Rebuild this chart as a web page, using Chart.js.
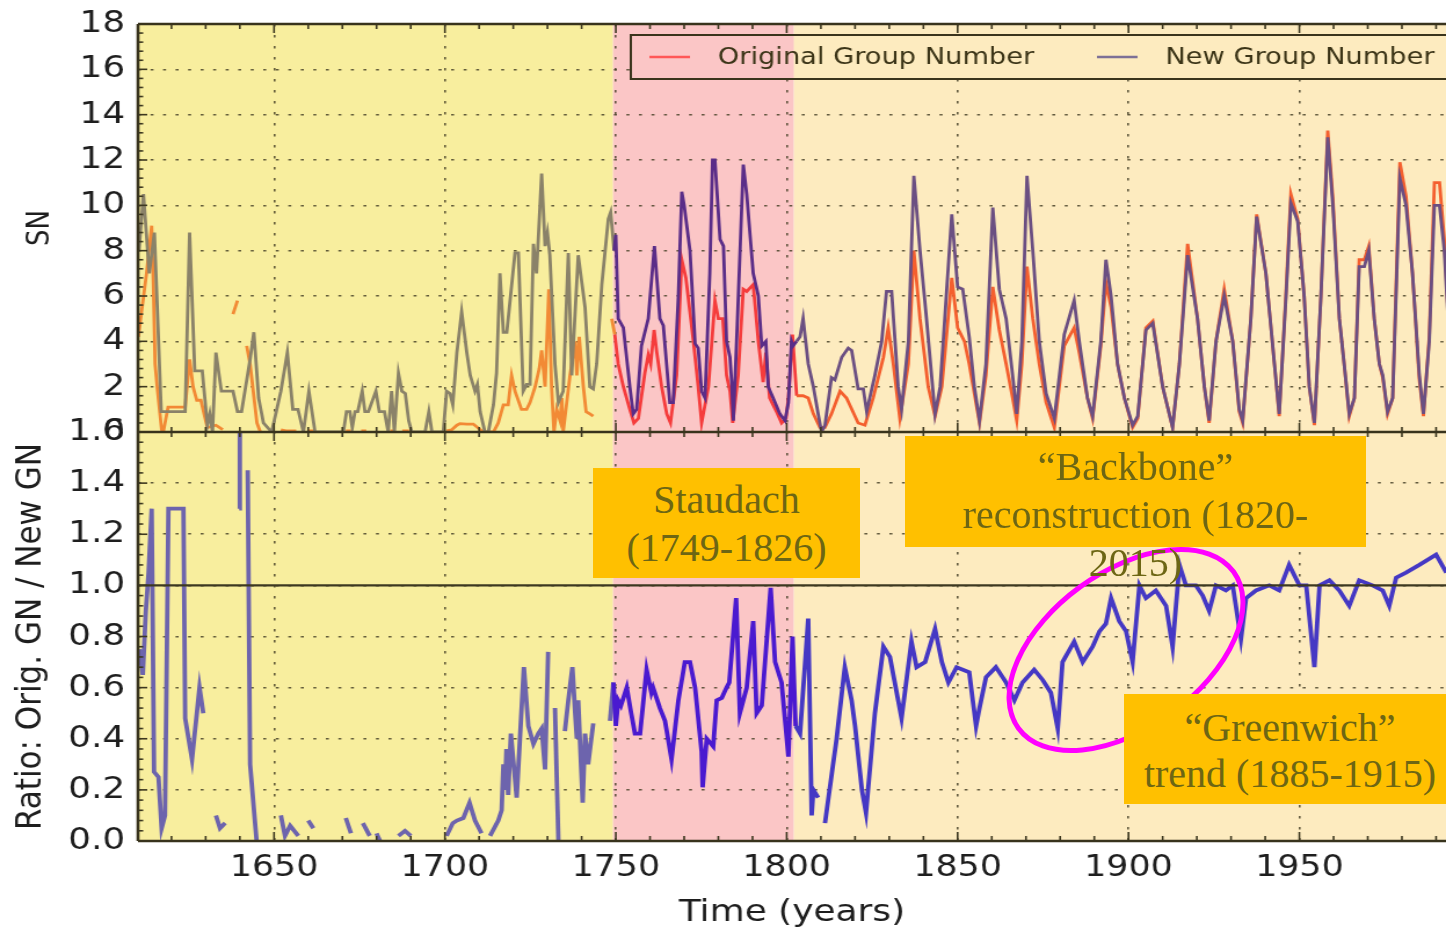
<!DOCTYPE html>
<html><head><meta charset="utf-8">
<script src="https://cdn.jsdelivr.net/npm/chart.js@4.4.1/dist/chart.umd.min.js"></script>
<style>
html,body{margin:0;padding:0;background:#fff;overflow:hidden;}
#wrap{position:relative;width:1446px;height:932px;overflow:hidden;}
#stretch{position:absolute;left:0;top:0;width:1247px;height:932px;transform-origin:0 0;transform:scaleX(1.15958);}
svg{position:absolute;left:0;top:0;}
.note{position:absolute;background:#ffc000;color:#6d6614;font-family:"Liberation Serif","DejaVu Serif",serif;font-size:40px;line-height:48px;text-align:center;white-space:nowrap;box-sizing:border-box;}
</style></head>
<body><div id="wrap">
<div id="stretch"><canvas id="c" width="1247" height="932"></canvas></div>
<svg width="1446" height="932"><ellipse cx="1126" cy="650" rx="133" ry="78" transform="rotate(-36 1126 650)" fill="none" stroke="#ff00ff" stroke-width="5"/></svg>
<div class="note" style="left:593px;top:468px;width:267px;height:110px;padding-top:8px;">Staudach<br>(1749-1826)</div>
<div class="note" style="left:905px;top:436px;width:461px;height:111px;padding-top:7px;">“Backbone”<br>reconstruction (1820-<br>2015)</div>
<div class="note" style="left:1124px;top:694px;width:332px;height:110px;padding-top:11px;line-height:46px;">“Greenwich”<br>trend (1885-1915)</div>
</div>
<script>
// ---- data ----
const newYears = [1610.5,1611.8,1613.5,1615.0,1617.0,1624.0,1625.3,1626.8,1629.0,1630.5,1631.2,1632.0,1633.0,1634.6,1638.0,1639.3,1640.5,1643.0,1644.1,1645.5,1646.9,1649.3,1652.0,1653.9,1655.5,1657.0,1658.6,1660.2,1662.0,1670.3,1671.2,1672.2,1672.9,1673.7,1674.5,1675.8,1676.6,1677.6,1679.8,1680.8,1682.3,1683.4,1684.4,1685.2,1686.4,1687.4,1688.4,1689.4,1690.3,1694.2,1695.3,1696.2,1699.5,1700.5,1701.5,1702.3,1703.5,1704.9,1706.4,1707.4,1708.8,1709.5,1710.3,1711.7,1712.7,1714.2,1715.1,1716.1,1717.1,1718.1,1720.5,1721.5,1722.9,1723.9,1724.9,1725.9,1726.8,1728.3,1729.3,1730.0,1730.7,1732.2,1733.2,1734.6,1736.1,1737.1,1739.0,1741.0,1742.4,1743.4,1744.4,1745.9,1747.8,1748.5,1749.5,1750.0,1750.7,1752.2,1754.1,1755.1,1756.1,1757.5,1759.5,1761.3,1762.9,1763.9,1765.8,1766.8,1768.3,1769.3,1770.0,1771.7,1773.2,1774.1,1775.1,1776.1,1777.5,1778.3,1779.0,1780.5,1781.5,1782.4,1783.4,1783.9,1784.4,1785.6,1787.3,1788.3,1790.2,1791.7,1792.7,1793.9,1794.6,1796.6,1798.0,1799.5,1800.5,1801.4,1801.9,1802.9,1803.9,1804.8,1806.3,1807.8,1809.2,1810.2,1811.2,1813.1,1814.1,1816.1,1818.0,1819.0,1820.9,1822.4,1823.4,1825.8,1827.8,1829.2,1830.7,1832.6,1833.6,1835.6,1837.2,1839.0,1840.9,1843.4,1844.9,1848.3,1850.0,1851.5,1853.4,1854.9,1856.4,1858.3,1860.3,1862.2,1864.2,1866.1,1867.3,1868.8,1870.3,1872.0,1873.9,1875.9,1878.3,1881.2,1884.1,1885.6,1888.0,1889.5,1891.9,1893.4,1894.9,1896.8,1898.8,1901.2,1902.7,1905.1,1907.1,1910.0,1912.9,1914.9,1917.3,1920.2,1922.2,1923.6,1925.6,1928.0,1930.5,1932.4,1933.4,1935.8,1937.5,1940.2,1942.7,1944.1,1946.1,1947.5,1949.5,1951.4,1952.9,1954.4,1956.3,1958.3,1959.8,1961.7,1963.1,1964.6,1966.1,1967.5,1969.0,1970.3,1971.9,1973.4,1974.4,1975.8,1977.3,1979.4,1981.2,1983.1,1985.1,1986.3,1988.0,1989.5,1991.0,1992.4,1993.5];
const newGN = [8.0,10.5,7.0,8.8,0.9,0.9,8.8,2.7,2.7,0.3,0.8,0.0,3.5,1.8,1.8,0.9,0.9,3.2,4.4,1.5,0.4,0.0,1.8,3.5,1.0,1.0,0.0,1.8,0.0,0.0,0.9,0.9,0.2,0.9,0.9,1.8,0.9,0.9,1.8,0.9,0.9,0.0,1.8,0.0,2.6,1.8,1.7,0.5,0.0,0.0,0.9,0.0,0.0,1.8,1.7,1.2,3.5,5.3,3.5,2.5,1.8,2.1,0.9,0.0,0.0,1.2,2.6,7.0,4.4,4.4,7.9,7.9,1.8,2.1,2.1,8.3,7.0,11.4,8.2,8.8,7.8,3.0,1.3,1.8,7.9,2.5,7.8,5.5,2.0,1.9,3.0,6.5,9.4,9.7,8.0,8.7,5.0,4.6,2.0,0.8,1.0,3.8,5.0,8.2,5.0,4.7,1.3,1.3,6.0,10.6,10.0,8.0,3.9,3.7,1.8,1.5,7.0,12.0,12.0,8.5,8.2,4.0,3.3,2.2,0.5,5.0,11.8,10.5,7.0,6.0,3.8,4.0,2.0,1.3,0.8,0.5,1.3,4.0,3.8,4.0,4.2,5.0,3.0,2.0,0.8,0.0,0.3,2.4,2.3,3.3,3.7,3.6,1.9,1.9,0.9,2.5,4.0,6.2,6.2,2.0,1.0,4.0,11.3,8.0,5.0,0.8,2.0,9.6,6.4,6.3,4.2,2.0,0.5,3.0,9.9,6.3,5.0,2.5,0.8,4.0,11.3,8.0,4.0,1.7,0.6,4.3,5.8,4.0,1.5,0.7,4.0,7.6,6.0,3.0,1.5,0.3,0.7,4.5,4.8,2.0,0.2,3.0,7.8,5.0,2.0,0.5,4.0,6.0,4.0,1.0,0.5,5.0,9.5,7.0,3.0,0.8,6.0,10.1,9.3,6.0,2.0,0.4,6.0,13.0,10.0,5.0,3.0,0.8,1.5,7.3,7.3,8.0,5.0,3.0,2.5,0.9,1.5,11.2,10.0,7.0,2.5,0.8,4.0,10.0,10.0,8.0,5.0];

const origYears = [1610.3,1612.7,1614.2,1614.7,1615.2,1615.8,1617.1,1617.6,1619.0,1624.0,1625.3,1626.3,1627.4,1628.6,1630.0,1630.5,1633.0,1635.0,1636.5,1638.0,1639.3,1640.5,1642.0,1643.0,1645.0,1646.0,1649.0,1652.0,1653.5,1656.5,1658.0,1660.0,1661.5,1665.0,1671.0,1672.5,1674.0,1675.5,1677.0,1680.0,1684.0,1685.0,1686.0,1687.5,1689.5,1695.0,1700.5,1702.0,1703.5,1704.4,1706.4,1708.3,1711.2,1714.2,1715.6,1717.1,1718.5,1719.5,1720.5,1722.4,1723.9,1724.9,1726.4,1727.6,1728.3,1729.3,1730.4,1731.2,1731.9,1732.7,1733.7,1734.2,1734.6,1736.6,1738.1,1738.6,1739.3,1740.5,1741.3,1742.4,1743.4,1746.0,1748.8,1749.7,1750.7,1752.2,1754.1,1755.3,1756.6,1758.5,1759.5,1760.2,1761.2,1762.0,1763.4,1764.9,1766.0,1767.8,1769.3,1770.5,1772.7,1774.1,1775.1,1777.1,1779.0,1780.0,1781.3,1782.4,1783.4,1784.2,1785.8,1787.3,1788.3,1790.2,1791.7,1793.1,1793.9,1795.0,1797.0,1798.5,1799.8,1800.5,1801.7,1802.9,1804.8,1806.3,1807.8,1809.7,1811.2,1813.1,1815.6,1817.5,1820.9,1822.9,1825.3,1828.3,1829.7,1831.2,1833.1,1835.6,1837.2,1839.0,1841.4,1843.4,1845.4,1848.3,1850.0,1852.0,1853.4,1856.4,1858.3,1860.3,1862.2,1864.2,1866.1,1867.3,1868.8,1870.3,1872.0,1873.9,1875.9,1878.3,1881.2,1884.1,1885.6,1888.0,1889.5,1891.9,1893.4,1894.9,1896.8,1898.8,1901.2,1902.7,1905.1,1907.1,1910.0,1912.9,1914.9,1917.3,1920.2,1922.2,1923.6,1925.6,1928.0,1930.5,1932.4,1933.4,1935.8,1937.5,1940.2,1942.7,1944.1,1946.1,1947.5,1949.5,1951.4,1952.9,1954.4,1956.3,1958.3,1959.8,1961.7,1963.1,1964.6,1966.1,1967.5,1969.0,1970.3,1971.9,1973.4,1974.4,1975.8,1977.3,1979.4,1981.2,1983.1,1985.1,1986.3,1988.0,1989.5,1991.0,1992.4,1993.5];
const origGN = [4.2,7.0,9.1,6.5,3.0,2.0,0.1,0.0,1.1,1.1,3.2,2.0,1.4,1.4,0.5,0.2,0.3,0.1,null,5.2,5.8,null,3.8,3.0,0.4,0.0,null,0.1,0.05,0.05,null,0.05,0.05,null,0.05,0.05,null,0.05,0.05,null,0.05,0.05,null,0.05,0.05,null,0.05,0.1,0.3,0.37,0.35,0.35,0.0,0.0,0.4,1.2,1.2,2.5,1.8,1.0,1.0,1.3,2.0,2.8,3.6,2.0,6.3,2.0,0.0,1.0,0.5,1.5,0.0,2.5,4.0,2.5,4.2,2.0,0.9,0.8,0.7,null,5.0,4.3,3.0,2.0,1.0,0.4,0.6,2.6,3.4,3.0,4.5,3.5,2.0,0.8,0.4,2.5,7.6,6.8,4.0,2.0,0.4,2.0,5.8,5.0,5.0,2.5,1.8,0.4,2.5,6.3,6.2,6.5,4.0,2.2,3.5,1.5,0.9,0.4,0.6,1.5,4.3,1.6,1.6,1.5,0.8,0.2,0.2,0.8,1.8,1.5,0.4,0.3,1.5,3.3,4.6,3.0,0.6,3.0,8.0,5.0,2.0,0.7,2.0,6.8,4.6,4.0,3.0,0.4,2.5,6.4,4.5,3.0,1.5,0.5,3.0,7.3,5.0,3.0,1.3,0.2,3.8,4.6,3.5,1.5,0.6,3.8,6.6,5.5,3.0,1.5,0.2,0.6,4.6,4.9,2.0,0.2,3.0,8.3,5.0,2.0,0.4,4.0,6.3,4.0,0.9,0.4,5.0,9.6,7.0,3.0,0.7,6.2,10.5,9.4,6.0,2.0,0.3,6.0,13.3,10.3,5.0,3.0,0.7,1.5,7.6,7.6,8.2,5.0,3.0,2.4,0.8,1.5,11.9,10.4,7.0,2.3,0.7,4.2,11.0,11.0,8.5,5.3];

const ratioYears = [1610.6,1611.6,1612.5,1613.3,1614.2,1614.9,1616.2,1617.1,1618.1,1619.1,1623.5,1624.0,1626.0,1628.2,1629.3,1631.0,1633.0,1634.2,1635.7,1637.0,1639.8,1640.0,1641.0,1642.3,1643.0,1644.9,1648.0,1652.0,1653.2,1654.7,1657.1,1658.5,1660.0,1661.5,1665.0,1671.0,1672.5,1674.0,1676.0,1678.0,1679.0,1680.0,1681.0,1684.0,1686.4,1688.3,1690.0,1695.0,1700.5,1702.3,1703.5,1705.4,1707.2,1708.8,1710.7,1712.0,1713.2,1715.6,1716.6,1717.1,1717.6,1718.0,1718.5,1719.3,1721.0,1723.1,1724.4,1725.9,1727.3,1728.3,1729.3,1730.2,1731.0,1732.2,1733.2,1734.0,1735.1,1736.1,1737.3,1738.1,1738.6,1739.0,1740.3,1741.0,1741.9,1743.4,1746.0,1748.3,1749.3,1750.0,1750.7,1751.5,1753.2,1754.5,1755.6,1757.1,1759.0,1760.4,1760.9,1762.9,1764.4,1766.3,1768.3,1770.2,1771.7,1773.2,1775.1,1775.4,1776.6,1778.5,1779.5,1781.0,1782.4,1783.2,1785.2,1786.3,1788.3,1790.2,1791.2,1792.7,1795.3,1796.6,1798.5,1800.5,1801.7,1802.6,1803.9,1806.3,1807.3,1807.8,1809.2,1810.2,1811.2,1814.6,1817.0,1819.0,1820.0,1822.0,1823.2,1825.8,1828.3,1830.2,1833.6,1836.5,1838.0,1840.5,1843.4,1845.4,1847.3,1849.7,1853.4,1855.4,1856.4,1858.3,1861.2,1864.2,1866.6,1869.0,1872.4,1874.9,1877.3,1879.3,1880.7,1884.1,1886.6,1889.5,1891.5,1893.4,1894.9,1897.3,1899.3,1901.2,1903.2,1905.1,1908.0,1911.0,1912.9,1914.9,1916.8,1919.7,1921.7,1923.6,1925.6,1928.5,1930.5,1932.9,1934.4,1937.3,1941.2,1944.1,1947.0,1950.0,1952.0,1954.4,1955.9,1958.8,1961.7,1964.6,1967.5,1971.4,1974.4,1976.3,1978.3,1981.2,1985.1,1990.0,1993.0];
const ratio = [0.75,0.65,0.9,1.05,1.3,0.27,0.25,0.05,0.1,1.3,1.3,0.48,0.32,0.6,0.5,null,0.1,0.05,0.07,null,1.3,1.6,null,1.45,0.3,0.0,null,0.1,0.02,0.06,0.02,null,0.08,0.05,null,0.09,0.03,null,0.07,0.02,null,0.03,0.0,null,0.02,0.04,0.02,null,0.02,0.07,0.08,0.09,0.15,0.08,0.03,null,0.02,0.08,0.12,0.3,0.2,0.36,0.18,0.42,0.17,0.68,0.45,0.38,0.42,0.44,0.28,0.74,null,0.52,0.0,null,0.43,0.55,0.68,0.5,0.4,0.55,0.15,0.42,0.3,0.46,null,0.47,0.62,0.45,0.55,0.53,0.6,0.5,0.42,0.42,0.67,0.58,0.6,0.52,0.47,0.32,0.55,0.7,0.7,0.6,0.35,0.21,0.4,0.37,0.55,0.56,0.6,0.62,0.95,0.5,0.6,0.86,0.5,0.53,0.99,0.7,0.62,0.33,0.8,0.45,0.42,0.87,0.1,0.2,0.17,null,0.07,0.4,0.68,0.55,0.45,0.2,0.11,0.5,0.76,0.72,0.48,0.78,0.68,0.7,0.83,0.7,0.62,0.68,0.66,0.45,0.52,0.64,0.68,0.62,0.55,0.62,0.67,0.63,0.58,0.44,0.7,0.78,0.7,0.76,0.82,0.85,0.95,0.86,0.82,0.7,1.0,0.95,0.98,0.92,0.76,1.08,1.0,1.0,0.96,0.9,1.0,0.98,1.0,0.79,0.95,0.98,1.0,0.98,1.08,1.0,1.0,0.68,1.0,1.02,0.98,0.92,1.02,1.0,0.98,0.92,1.03,1.05,1.08,1.12,1.05];

const xTicks = [1650,1700,1750,1800,1850,1900,1950];
const snTicks = [0,2,4,6,8,10,12,14,16,18];
const ratioTicks = [0,0.2,0.4,0.6,0.8,1.0,1.2,1.4,1.6];
const xRange = [1610.2, 1992.9];
const periodStarts = [1610.2, 1749.2, 1802.1];   // Yellow, Staudach (pink), Backbone (light orange)
const periodFills = ['#f8ee9e','#fbc6c6','#fdebbf'];
const newColors = ['#8a8269','#5a2d88','#6b4f82'];
const origColors = ['#f28a35','#f53c3c','#f45f2e'];
const ratioColors = ['#6d64ad','#4a1ad0','#4538c4'];
const legendColors = ['#ff5757','#7d7096'];

// ---- helpers ----
function periodIndex(x){ let k = 0; periodStarts.forEach((s,i)=>{ if (x >= s) k = i; }); return k; }
const toPoints = (xs, ys) => xs.map((x,i)=>({x:x, y:ys[i]}));
const FONT = "'DejaVu Sans', sans-serif";
const gridColor = 'rgba(72,66,40,0.85)';

const framePlugin = {
  id: 'frame',
  beforeDraw(chart){
    const {ctx, chartArea:a, scales:{x}} = chart;
    ctx.save();
    periodStarts.forEach((s,i)=>{
      const x0 = Math.max(a.left, x.getPixelForValue(s));
      const x1 = i+1 < periodStarts.length ? x.getPixelForValue(periodStarts[i+1]) : a.right;
      ctx.fillStyle = periodFills[i];
      ctx.fillRect(x0, a.top, x1-x0, a.bottom-a.top);
    });
    ctx.restore();
  },
  afterDatasetsDraw(chart){
    const {ctx, chartArea:a, scales:{x, ySN, yR}} = chart;
    ctx.save();
    ctx.strokeStyle = '#3d3820';
    // ratio = 1 reference line
    ctx.lineWidth = 2.2;
    const y1 = yR.getPixelForValue(1);
    ctx.beginPath(); ctx.moveTo(a.left, y1); ctx.lineTo(a.right, y1); ctx.stroke();
    // tick marks (inward)
    ctx.lineWidth = 1.6;
    const panels = [ySN, yR];
    const xMinor = [];
    for (let v = 1620; v < xRange[1]; v += 10) xMinor.push(v);
    panels.forEach(p=>{
      xMinor.forEach(v=>{
        const len = xTicks.includes(v) ? 9 : 5;
        const px = x.getPixelForValue(v);
        ctx.beginPath();
        ctx.moveTo(px, p.top); ctx.lineTo(px, p.top+len);
        ctx.moveTo(px, p.bottom); ctx.lineTo(px, p.bottom-len);
        ctx.stroke();
      });
    });
    const yMinor = (scale, step, majors) => {
      for (let i = 0; i*step <= scale.max + 1e-9; i++) {
        const v = i*step;
        const isMajor = majors.some(m => Math.abs(m - v) < 1e-6);
        const py = scale.getPixelForValue(v);
        ctx.beginPath(); ctx.moveTo(a.left, py); ctx.lineTo(a.left + (isMajor ? 8 : 4.5), py); ctx.stroke();
      }
    };
    yMinor(ySN, 0.4, snTicks);
    yMinor(yR, 0.04, ratioTicks);
    // spines
    ctx.lineWidth = 2.6;
    ctx.strokeStyle = '#38331c';
    ctx.beginPath();
    ctx.moveTo(a.left, a.top); ctx.lineTo(a.right, a.top);
    ctx.moveTo(a.left, ySN.bottom); ctx.lineTo(a.right, ySN.bottom);
    ctx.moveTo(a.left, a.bottom); ctx.lineTo(a.right, a.bottom);
    ctx.moveTo(a.left, a.top); ctx.lineTo(a.left, a.bottom);
    ctx.stroke();
    // legend box inside the top panel
    const lx = 544, ly = 35, lh = 44, lw = 760;
    periodStarts.forEach((s,i)=>{
      const x0 = Math.max(lx, x.getPixelForValue(s));
      const x1 = i+1 < periodStarts.length ? x.getPixelForValue(periodStarts[i+1]) : a.right;
      if (x1 > x0) { ctx.fillStyle = periodFills[i]; ctx.fillRect(x0, ly, x1-x0, lh); }
    });
    ctx.lineWidth = 2;
    ctx.strokeStyle = '#3a341c';
    ctx.strokeRect(lx, ly, lw, lh);
    const items = [
      {label: chart.data.datasets[0].label, color: legendColors[0], x0: 560, tx: 619},
      {label: chart.data.datasets[1].label, color: legendColors[1], x0: 946, tx: 1005}
    ];
    ctx.font = "23.5px " + FONT;
    ctx.textBaseline = 'middle';
    ctx.textAlign = 'left';
    items.forEach(it=>{
      ctx.strokeStyle = it.color; ctx.lineWidth = 2.6;
      ctx.beginPath(); ctx.moveTo(it.x0, ly+lh/2); ctx.lineTo(it.x0+35, ly+lh/2); ctx.stroke();
      ctx.fillStyle = '#3b3417';
      ctx.fillText(it.label, it.tx, ly+lh/2+1);
    });
    ctx.restore();
  }
};

const mkTicks = vals => scale => { scale.ticks = vals.map(v => ({value: v})); };

const chart = new Chart(document.getElementById('c'), {
  type: 'line',
  data: {
    datasets: [
      { label: 'Original Group Number', data: toPoints(origYears, origGN), xAxisID: 'x', yAxisID: 'ySN', order: 2,
        borderColor: origColors[2], borderWidth: 2.8, pointRadius: 0, spanGaps: false, tension: 0,
        segment: { borderColor: c => origColors[periodIndex(c.p0.parsed.x)] } },
      { label: 'New Group Number', data: toPoints(newYears, newGN), xAxisID: 'x', yAxisID: 'ySN', order: 1,
        borderColor: newColors[2], borderWidth: 2.8, pointRadius: 0, spanGaps: false, tension: 0,
        segment: { borderColor: c => newColors[periodIndex(c.p0.parsed.x)] } },
      { label: 'Ratio', data: toPoints(ratioYears, ratio), xAxisID: 'x', yAxisID: 'yR', order: 0,
        borderColor: ratioColors[2], borderWidth: 3.8, pointRadius: 0, spanGaps: false, tension: 0,
        segment: { borderColor: c => ratioColors[periodIndex(c.p0.parsed.x)] } }
    ]
  },
  options: {
    responsive: false, animation: false, devicePixelRatio: 1,
    layout: { padding: { top: 24, right: 0, bottom: 0, left: 0 } },
    plugins: { legend: { display: false }, tooltip: { enabled: false } },
    scales: {
      x: { type: 'linear', position: 'bottom', min: xRange[0], max: xRange[1],
        afterBuildTicks: mkTicks(xTicks),
        afterFit: s => { s.height = 91; },
        grid: { color: gridColor, lineWidth: 1.6, drawTicks: false },
        border: { display: false, dash: [2.5, 8.5] },
        ticks: { font: { family: FONT, size: 30 }, color: '#1e1e1e', padding: 9, maxRotation: 0, autoSkip: false, callback: v => String(v) },
        title: { display: true, text: 'Time (years)', font: { family: FONT, size: 31 }, color: '#1e1e1e', padding: { top: 0, bottom: 0 } } },
      ySN: { type: 'linear', position: 'left', stack: 'panels', stackWeight: 408, weight: 2, min: 0, max: 18,
        afterBuildTicks: mkTicks(snTicks),
        afterFit: s => { s.width = 119; },
        grid: { color: gridColor, lineWidth: 1.6, drawTicks: false },
        border: { display: false, dash: [2.6, 8.2] },
        ticks: { font: { family: FONT, size: 31, lineHeight: 0.8 }, color: '#1e1e1e', padding: 11, autoSkip: false, callback: v => String(v) },
        title: { display: true, text: 'SN', font: { family: FONT, size: 26 }, color: '#1e1e1e', padding: { top: 20, bottom: 0 } } },
      yR: { type: 'linear', position: 'left', stack: 'panels', stackWeight: 409, weight: 1, min: 0, max: 1.6,
        afterBuildTicks: mkTicks(ratioTicks),
        afterFit: s => { s.width = 119; },
        grid: { color: gridColor, lineWidth: 1.6, drawTicks: false },
        border: { display: false, dash: [2.6, 8.2] },
        ticks: { font: { family: FONT, size: 31, lineHeight: 0.8 }, color: '#1e1e1e', padding: 11, autoSkip: false, callback: v => v.toFixed(1) },
        title: { display: true, text: 'Ratio: Orig. GN / New GN', font: { family: FONT, size: 31 }, color: '#1e1e1e', padding: { top: 8, bottom: 0 } } }
    }
  },
  plugins: [framePlugin]
});
</script>
</body></html>
